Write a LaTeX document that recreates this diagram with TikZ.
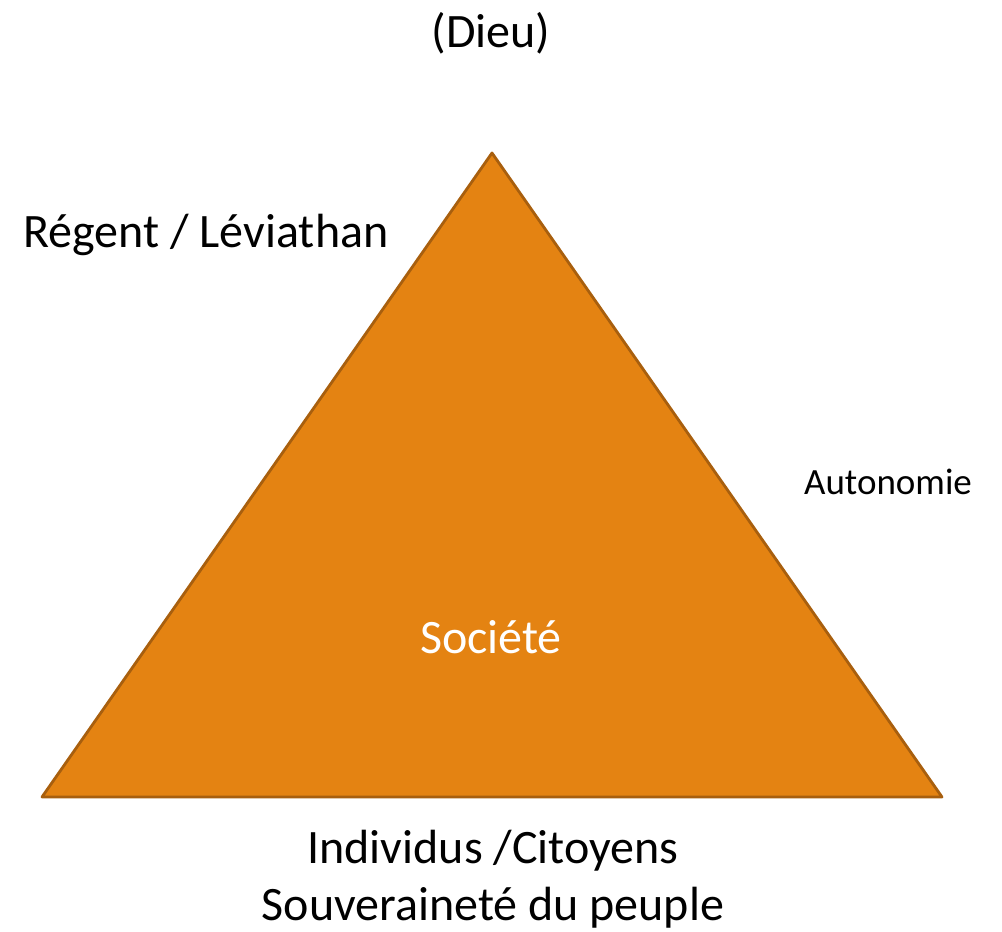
\documentclass[tikz,border=0pt]{standalone}
\usepackage{fontspec}
\setmainfont{Carlito}
\usepackage{tikz}
\usetikzlibrary{positioning}
\definecolor{trifill}{HTML}{E48312}
\definecolor{triedge}{HTML}{A85F0E}

\begin{document}
\begin{tikzpicture}[
  x=1pt, y=1pt,
  bigtext/.style={inner sep=0pt, font=\fontsize{48}{57}\selectfont, align=center},
  smalltext/.style={inner sep=0pt, font=\fontsize{37}{44}\selectfont},
]
\useasboundingbox (0,0) rectangle (1002,932);

% Triangle
\coordinate (apex) at (492,779);
\coordinate (left) at (42,135);
\coordinate (right) at (942,135);
\filldraw[fill=trifill, draw=triedge, line width=2.8pt, line join=round] (apex) -- (left) -- (right) -- cycle;

% Labels
\node[bigtext] (dieu) at (491,899) {(Dieu)};
\node[bigtext] (regent) at (206,697) {Régent / Léviathan};
\node[smalltext] (autonomie) at (888,450) {Autonomie};
\node[bigtext, text=white] (societe) at (491,295) {Société};
\node[bigtext] (individus) at (493,53) {Individus /Citoyens\\Souveraineté du peuple};

\end{tikzpicture}
\end{document}
